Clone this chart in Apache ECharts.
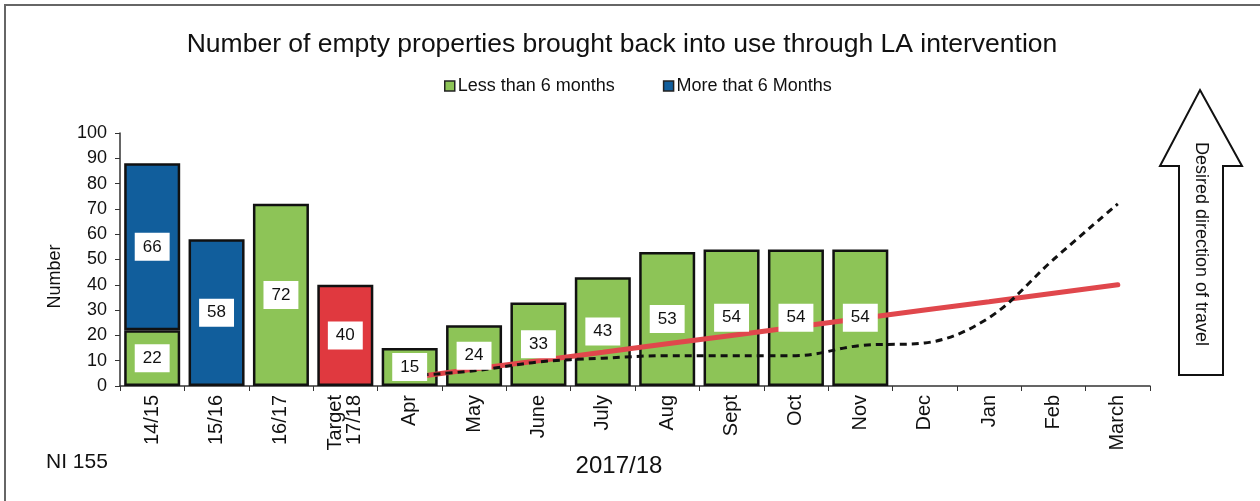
<!DOCTYPE html>
<html>
<head>
<meta charset="utf-8">
<script src="https://cdn.jsdelivr.net/npm/echarts@6/dist/echarts.min.js"></script>
<style>
  html, body { margin: 0; padding: 0; background: #fff; }
  #chart { width: 1260px; height: 501px; }
</style>
</head>
<body>
<div id="chart"></div>
<script>
// Categories along the x axis
const categories = ['14/15', '15/16', '16/17', 'Target\n17/18', 'Apr', 'May', 'June', 'July',
  'Aug', 'Sept', 'Oct', 'Nov', 'Dec', 'Jan', 'Feb', 'March'];

// Properties empty for less than six months
const lessThan6 = [22, '-', 72, '-', 15, 24, 33, 43, 53, 54, 54, 54, '-', '-', '-', '-'];
// Properties empty for more than six months
const moreThan6 = [66, 58, '-', '-', '-', '-', '-', '-', '-', '-', '-', '-', '-', '-', '-', '-'];
// Annual target
const target = ['-', '-', '-', 40, '-', '-', '-', '-', '-', '-', '-', '-', '-', '-', '-', '-'];
// Monthly target trajectory towards 40
const targetPath = ['-', '-', '-', '-', 3.3, 6.7, 10, 13.3, 16.7, 20, 23.3, 26.7, 30, 33.3, 36.7, 40];
// Previous year cumulative profile
const lastYear = ['-', '-', '-', '-', 4, 6, 9.5, 11, 12, 12, 12, 16, 17, 27, 50, 72];

// Y axis ticks
const yMin = 0, yMax = 100, yStep = 10;

const GREEN = '#8dc457', BLUE = '#115e9c', RED = '#e0393f';
const FONT = 'Liberation Sans, Arial, sans-serif';

const barBorder = { borderColor: '#111', borderWidth: 2.5 };
const valueLabel = {
  show: true,
  position: 'inside',
  color: '#111',
  fontFamily: FONT,
  fontSize: 17,
  backgroundColor: '#fff',
  padding: [6, 8, 5, 8]
};

function barSeries(name, data, color) {
  return {
    name, type: 'bar', stack: 'total', data, z: 2,
    barCategoryGap: '13%',
    itemStyle: Object.assign({ color }, barBorder),
    label: { show: false }
  };
}
// Transparent copies carrying the value boxes so they sit above the lines
function labelSeries(name, data) {
  return {
    name: name + ' label', type: 'bar', stack: 'labels', data, z: 5,
    barGap: '-100%', barCategoryGap: '13%',
    itemStyle: { color: 'rgba(0,0,0,0)' },
    label: valueLabel, silent: true
  };
}

const chart = echarts.init(document.getElementById('chart'));
chart.setOption({
  backgroundColor: '#fff',
  animation: false,
  textStyle: { fontFamily: FONT },
  legend: {
    top: 72, left: 439,
    itemWidth: 10, itemHeight: 10, itemGap: 48,
    icon: 'rect',
    textStyle: { fontSize: 18, color: '#111', fontFamily: FONT, padding: [0, 0, 0, -2] },
    data: [
      { name: 'Less than 6 months', itemStyle: { borderColor: '#222', borderWidth: 1.5 } },
      { name: 'More that 6 Months', itemStyle: { borderColor: '#222', borderWidth: 1.5 } }
    ]
  },
  grid: { left: 120, right: 110, top: 133, bottom: 115 },
  xAxis: {
    type: 'category',
    data: categories,
    axisLine: { lineStyle: { color: '#333', width: 1.5 } },
    axisTick: { show: true, length: 5, lineStyle: { color: '#333' } },
    axisLabel: { rotate: 90, fontSize: 20, color: '#111', lineHeight: 19, margin: 9, fontFamily: FONT }
  },
  yAxis: {
    type: 'value', min: yMin, max: yMax, interval: yStep,
    splitLine: { show: false },
    axisLine: { show: true, lineStyle: { color: '#333', width: 1.5 } },
    axisTick: { show: true, length: 5, lineStyle: { color: '#333' } },
    axisLabel: { fontSize: 18, color: '#111', margin: 13, fontFamily: FONT },
    name: 'Number', nameLocation: 'middle', nameGap: 56, nameRotate: 90,
    nameTextStyle: { fontSize: 18, color: '#111', fontFamily: FONT, padding: [0, 0, 0, -34] }
  },
  series: [
    barSeries('Less than 6 months', lessThan6, GREEN),
    barSeries('More that 6 Months', moreThan6, BLUE),
    barSeries('Target', target, RED),
    {
      name: 'Target path', type: 'line', data: targetPath, z: 3,
      symbol: 'none', lineStyle: { color: '#e0474c', width: 5, cap: 'round' }
    },
    {
      name: 'Previous year', type: 'line', data: lastYear, z: 3, smooth: 0.35,
      symbol: 'none', lineStyle: { color: '#111', width: 3, type: [7, 5] }
    },
    labelSeries('Less than 6 months', lessThan6),
    labelSeries('More that 6 Months', moreThan6),
    labelSeries('Target', target)
  ],
  graphic: [
    // page frame
    { type: 'polyline', shape: { points: [[5, 501], [5, 5], [1260, 5]] },
      style: { stroke: '#666', lineWidth: 2, fill: null } },
    // title
    { type: 'text', x: 622, y: 45,
      style: { text: 'Number of empty properties brought back into use through LA intervention',
        fontSize: 26.5, fill: '#111', fontFamily: FONT, align: 'center', verticalAlign: 'middle' } },
    // indicator reference
    { type: 'text', x: 46, y: 462,
      style: { text: 'NI 155', fontSize: 21, fill: '#111', fontFamily: FONT, align: 'left', verticalAlign: 'middle' } },
    // period caption under the axis
    { type: 'text', x: 619, y: 466,
      style: { text: '2017/18', fontSize: 24, fill: '#111', fontFamily: FONT, align: 'center', verticalAlign: 'middle' } },
    // direction arrow
    { type: 'polygon', z: 10,
      shape: { points: [[1200, 90], [1242, 166], [1223, 166], [1223, 375], [1179, 375], [1179, 166], [1160, 166]] },
      style: { fill: '#fff', stroke: '#111', lineWidth: 2 } },
    { type: 'text', z: 11, x: 1201, y: 244, rotation: -Math.PI / 2,
      style: { text: 'Desired direction of travel', fontSize: 18, fill: '#111', fontFamily: FONT,
        align: 'center', verticalAlign: 'middle' } }
  ]
});
</script>
</body>
</html>
